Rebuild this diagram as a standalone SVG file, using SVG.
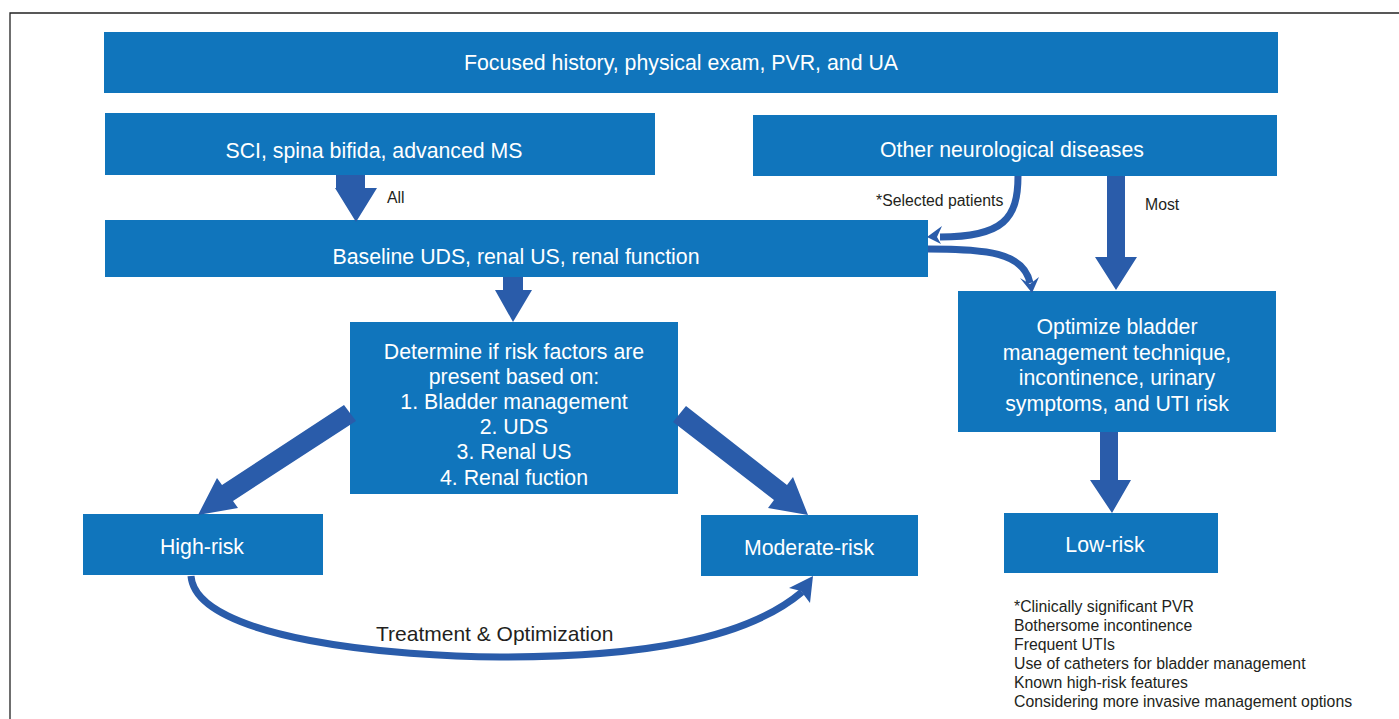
<svg xmlns="http://www.w3.org/2000/svg" width="1399" height="719" viewBox="0 0 1399 719">
<style>
.box{fill:#1075bc}
.bt{fill:#fff;font-family:"Liberation Sans",Arial,sans-serif;font-size:21.3px;text-anchor:middle}
.lb{fill:#231f20;font-family:"Liberation Sans",Arial,sans-serif;font-size:15.8px}
.ar{fill:#2a5caa}
.cv{fill:none;stroke:#2a5caa;stroke-width:7}
</style>
<rect width="1399" height="719" fill="#fff"/>
<path d="M10,719 V13 H1399" fill="none" stroke="#222" stroke-width="1.3"/>
<g id="n-top"><rect class="box" x="104" y="32" width="1174" height="61"/><text class="bt" x="681" y="70">Focused history, physical exam, PVR, and UA</text></g>
<g id="n-sci"><rect class="box" x="105" y="113" width="550" height="62"/><text class="bt" x="374" y="158">SCI, spina bifida, advanced MS</text></g>
<g id="n-other"><rect class="box" x="753" y="115" width="524" height="61"/><text class="bt" x="1012" y="157">Other neurological diseases</text></g>
<g id="n-baseline"><rect class="box" x="105" y="220" width="823" height="57"/><text class="bt" x="516" y="264">Baseline UDS, renal US, renal function</text></g>
<g id="n-determine"><rect class="box" x="350" y="322" width="328" height="172"/>
<text class="bt" x="514" y="359">Determine if risk factors are</text>
<text class="bt" x="514" y="384">present based on:</text>
<text class="bt" x="514" y="409">1. Bladder management</text>
<text class="bt" x="514" y="434">2. UDS</text>
<text class="bt" x="514" y="459">3. Renal US</text>
<text class="bt" x="514" y="485">4. Renal fuction</text></g>
<g id="n-optimize"><rect class="box" x="958" y="291" width="318" height="141"/>
<text class="bt" x="1117" y="334">Optimize bladder</text>
<text class="bt" x="1117" y="360">management technique,</text>
<text class="bt" x="1117" y="385">incontinence, urinary</text>
<text class="bt" x="1117" y="411">symptoms, and UTI risk</text></g>
<g id="n-high"><rect class="box" x="83" y="514" width="240" height="61"/><text class="bt" x="202" y="554">High-risk</text></g>
<g id="n-moderate"><rect class="box" x="701" y="515" width="217" height="61"/><text class="bt" x="809" y="555">Moderate-risk</text></g>
<g id="n-low"><rect class="box" x="1004" y="513" width="214" height="60"/><text class="bt" x="1105" y="552">Low-risk</text></g>
<g id="connectors">
<polygon class="ar" points="336,175 365,175 365,188 377,188 356,222 335,188 336,188"/>
<polygon class="ar" points="503,277 523,277 523,290 532,290 513,322 495,290 503,290"/>
<polygon class="ar" points="1107,176 1125,176 1125,257 1137,257 1116,290 1095,257 1107,257"/>
<polygon class="ar" points="1100,432 1118,432 1118,480 1131,480 1112,513 1090,480 1100,480"/>
<polygon class="ar" points="344,405 222,485 217,478 198,515 238,508 233,501 356,421"/>
<polygon class="ar" points="673,422 686,406 787,485 793,477 808,515 768,508 774,500"/>
<path class="cv" d="M1018,176 C1018,218 1004,237 940,237"/>
<polygon class="ar" points="927,237 942,226 937,237 941,244"/>
<path class="cv" d="M928,249 C985,249 1024,252 1030,283"/>
<polygon class="ar" points="1032,293 1020,278 1030,284 1039,277"/>
<path class="cv" d="M191,576 C196,640 400,657 500,657 C640,657 745,640 802,592"/>
<polygon class="ar" points="813,576 789,588 801,591 810,603"/>
<text class="lb" x="387" y="203">All</text>
<text class="lb" x="876" y="206">*Selected patients</text>
<text class="lb" x="1145" y="210">Most</text>
<text class="lb" x="376" y="641" style="font-size:21px">Treatment &amp; Optimization</text>
</g>
<g id="footnote">
<text class="lb" x="1014" y="612">*Clinically significant PVR</text>
<text class="lb" x="1014" y="631">Bothersome incontinence</text>
<text class="lb" x="1014" y="650">Frequent UTIs</text>
<text class="lb" x="1014" y="669">Use of catheters for bladder management</text>
<text class="lb" x="1014" y="688">Known high-risk features</text>
<text class="lb" x="1014" y="707">Considering more invasive management options</text>
</g>
</svg>
